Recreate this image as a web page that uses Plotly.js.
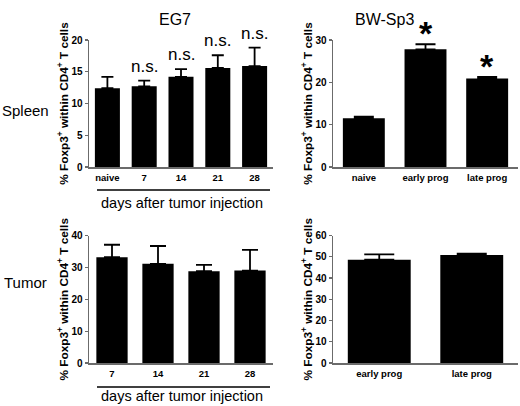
<!DOCTYPE html>
<html>
<head>
<meta charset="utf-8">
<script src="https://cdn.plot.ly/plotly-3.0.1.min.js"></script>
<style>
  html, body { margin: 0; padding: 0; background: #fff; }
  #chart { width: 520px; height: 406px; }
</style>
</head>
<body>
<div id="chart"></div>
<script>
// values (mean, upper error)
const eg7SpleenDays = ['naive', '7', '14', '21', '28'];
const eg7SpleenMean = [12.4, 12.7, 14.2, 15.6, 15.9];
const eg7SpleenErr = [1.8, 0.9, 1.2, 2.0, 2.9];
const eg7SpleenSig = ['', 'n.s.', 'n.s.', 'n.s.', 'n.s.'];

const bwSpleenGroups = ['naive', 'early prog', 'late prog'];
const bwSpleenMean = [11.5, 27.8, 20.9];
const bwSpleenErr = [0.4, 1.2, 0.4];
const bwSpleenSig = ['', '*', '*'];

const eg7TumorDays = ['7', '14', '21', '28'];
const eg7TumorMean = [33.2, 31.1, 28.8, 29.0];
const eg7TumorErr = [3.9, 5.6, 2.0, 6.5];

const bwTumorGroups = ['early prog', 'late prog'];
const bwTumorMean = [48.6, 50.8];
const bwTumorErr = [2.5, 0.7];

const FONT = 'Arial, "Liberation Sans", sans-serif';
const AXIS_GREY = '#6b6b6b';
const yTitle = '% Foxp3<sup>+</sup> within CD4<sup>+</sup> T cells';

function barTrace(x, y, err, capW, xa, ya) {
    return {
        type: 'bar', x: x, y: y, xaxis: xa, yaxis: ya,
        marker: { color: '#000', line: { color: '#000', width: 0 } },
        error_y: { type: 'data', symmetric: false, array: err, arrayminus: err.map(() => 0),
                   color: '#000', thickness: 1.8, width: capW },
        hoverinfo: 'skip', showlegend: false,
    };
}

function xAxis(domain, anchor, n) {
    return {
        domain: domain, anchor: anchor, type: 'category', range: [-0.5, n - 0.5],
        showline: true, linecolor: AXIS_GREY, linewidth: 1.5,
        ticks: 'outside', ticklen: 1, tickcolor: 'rgba(0,0,0,0)',
        tickfont: { family: FONT, size: 9.5, color: '#000', weight: 'bold' },
        showgrid: false, zeroline: false, fixedrange: true, automargin: false,
    };
}

function yAxis(domain, anchor, max, dtick) {
    return {
        domain: domain, anchor: anchor, range: [0, max], dtick: dtick,
        showline: true, linecolor: AXIS_GREY, linewidth: 1.5,
        ticks: 'outside', ticklen: 3, tickwidth: 1.2, tickcolor: AXIS_GREY,
        tickfont: { family: FONT, size: 10, color: '#000', weight: 'bold' },
        title: { text: yTitle, standoff: 0,
                 font: { family: FONT, size: 11.8, color: '#000', weight: 'bold' } },
        showgrid: false, zeroline: false, fixedrange: true, automargin: false,
    };
}

const traces = [
    barTrace(eg7SpleenDays, eg7SpleenMean, eg7SpleenErr, 6, 'x', 'y'),
    barTrace(bwSpleenGroups, bwSpleenMean, bwSpleenErr, 10, 'x2', 'y2'),
    barTrace(eg7TumorDays, eg7TumorMean, eg7TumorErr, 8, 'x3', 'y3'),
    barTrace(bwTumorGroups, bwTumorMean, bwTumorErr, 15, 'x4', 'y4'),
];

const leftX = [89 / 520, 273 / 520];
const rightX = [333 / 520, 518 / 520];
const topY = [1 - 167 / 406, 1 - 40 / 406];
const botY = [1 - 363 / 406, 1 - 235.5 / 406];

const annotations = [];
function note(text, x, y, size, extra) {
    annotations.push(Object.assign({
        text: text, x: x, y: y, xref: 'paper', yref: 'paper', showarrow: false,
        font: { family: FONT, size: size, color: '#000' },
    }, extra || {}));
}

note('EG7', 175 / 520, 1 - 9 / 406, 16);
note('BW-Sp3', 416 / 520, 1 - 9 / 406, 16);
note('Spleen', 0, 1 - 100 / 406, 15, { xanchor: 'left' });
note('Tumor', 2 / 520, 1 - 293 / 406, 15, { xanchor: 'left' });
note('days after tumor injection', 182 / 520, 1 - 203 / 406, 14.5);
note('days after tumor injection', 182 / 520, 0, 14.5, { yanchor: 'bottom' });

// significance marks sit on top of the error bars (x given as category index)
eg7SpleenSig.forEach((s, i) => {
    if (!s) return;
    annotations.push({
        text: s, xref: 'x', yref: 'y', x: i, y: eg7SpleenMean[i] + eg7SpleenErr[i],
        yanchor: 'bottom', yshift: 3, showarrow: false,
        font: { family: FONT, size: 17, color: '#000' },
    });
});
bwSpleenSig.forEach((s, i) => {
    if (!s) return;
    annotations.push({
        text: s, xref: 'x2', yref: 'y2', x: i, y: bwSpleenMean[i] + bwSpleenErr[i],
        yanchor: 'bottom', yshift: -10, showarrow: false,
        font: { family: FONT, size: 34, color: '#000', weight: 'bold' },
    });
});

const shapes = [
    { type: 'line', xref: 'paper', yref: 'paper', x0: 97 / 520, x1: 270 / 520,
      y0: 1 - 190 / 406, y1: 1 - 190 / 406, line: { color: '#000', width: 1.5 } },
    { type: 'line', xref: 'paper', yref: 'paper', x0: 97 / 520, x1: 270 / 520,
      y0: 1 - 387 / 406, y1: 1 - 387 / 406, line: { color: '#000', width: 1.5 } },
];

const layout = {
    width: 520, height: 406,
    margin: { l: 0, r: 0, t: 0, b: 0, pad: 0, autoexpand: false },
    paper_bgcolor: '#fff', plot_bgcolor: '#fff',
    font: { family: FONT, color: '#000' },
    bargap: 0.32,
    showlegend: false,
    xaxis: xAxis(leftX, 'y', 5),
    yaxis: yAxis(topY, 'x', 20, 5),
    xaxis2: xAxis(rightX, 'y2', 3),
    yaxis2: yAxis(topY, 'x2', 30, 10),
    xaxis3: xAxis(leftX, 'y3', 4),
    yaxis3: yAxis(botY, 'x3', 40, 10),
    xaxis4: xAxis(rightX, 'y4', 2),
    yaxis4: yAxis(botY, 'x4', 60, 10),
    annotations: annotations,
    shapes: shapes,
};

Plotly.newPlot('chart', traces, layout, { displayModeBar: false, staticPlot: true });
</script>
</body>
</html>
